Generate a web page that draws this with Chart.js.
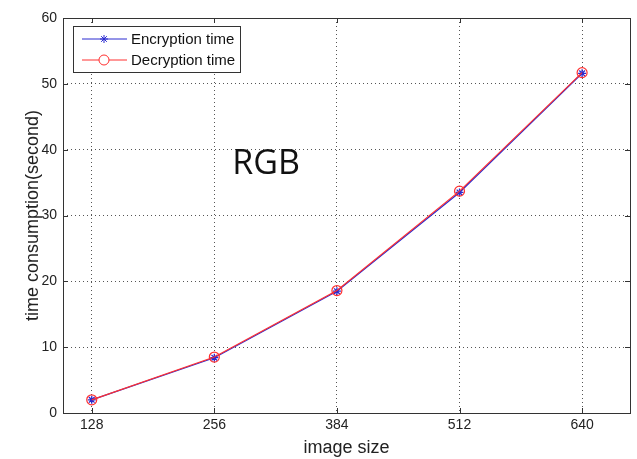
<!DOCTYPE html>
<html>
<head>
<meta charset="utf-8">
<script src="https://cdn.jsdelivr.net/npm/chart.js@4/dist/chart.umd.min.js"></script>
<style>
  body { margin: 0; background: #fff; }
  #c { display: block; }
</style>
</head>
<body>
<canvas id="c" width="637" height="459"></canvas>
<script>
// data
const imageSizes = [128, 256, 384, 512, 640];
const encryptionTime = [2.0, 8.4, 18.5, 33.5, 51.6];
const decryptionTime = [2.0, 8.5, 18.6, 33.7, 51.7];
const yTicks = [0, 10, 20, 30, 40, 50, 60];

const FONT = "'Liberation Sans', Arial, sans-serif";

// legend box + frame + "RGB" text drawn over the plot
const matlabLook = {
  id: "matlabLook",
  beforeDraw(chart) {
    const c = chart.ctx;
    c.save();
    c.fillStyle = "#fff";
    c.fillRect(0, 0, chart.width, chart.height);
    c.restore();
  },
  afterDatasetsDraw(chart) {
    const c = chart.ctx;
    const a = chart.chartArea;
    const xs = chart.scales.x, ys = chart.scales.y;
    c.save();
    // frame
    c.strokeStyle = "#333";
    c.lineWidth = 1;
    c.strokeRect(Math.round(a.left) + 0.5, Math.round(a.top) + 0.5, Math.round(a.right - a.left), Math.round(a.bottom - a.top));
    // inner ticks
    c.beginPath();
    imageSizes.forEach(v => {
      const px = Math.round(xs.getPixelForValue(v)) + 0.5;
      c.moveTo(px, a.bottom); c.lineTo(px, a.bottom - 5);
      c.moveTo(px, a.top); c.lineTo(px, a.top + 5);
    });
    yTicks.forEach(v => {
      const py = Math.round(ys.getPixelForValue(v)) + 0.5;
      c.moveTo(a.left, py); c.lineTo(a.left + 5, py);
      c.moveTo(a.right, py); c.lineTo(a.right - 5, py);
    });
    c.stroke();

    // RGB label
    c.fillStyle = "#111";
    c.font = "34px 'Open Sans', " + FONT;
    c.textAlign = "center";
    c.textBaseline = "middle";
    c.fillText("RGB", xs.getPixelForValue(310), ys.getPixelForValue(37.8));

    // legend
    const lx = 73, ly = 26, lw = 167, lh = 46;
    c.fillStyle = "#fff";
    c.fillRect(lx, ly, lw, lh);
    c.strokeStyle = "#333";
    c.strokeRect(lx + 0.5, ly + 0.5, lw, lh);
    c.font = "15px " + FONT;
    c.textAlign = "left";
    chart.data.datasets.forEach((ds, i) => {
      const yy = ly + 13 + i * 21;
      c.strokeStyle = ds.borderColor;
      c.lineWidth = 1;
      c.beginPath();
      c.moveTo(lx + 9, yy); c.lineTo(lx + 54, yy);
      c.stroke();
      c.fillStyle = "#fff";
      Chart.helpers.drawPoint(c, {
        pointStyle: ds.pointStyle, radius: ds.pointRadius, borderWidth: 1.2, rotation: 0
      }, lx + 31, yy);
      c.fillStyle = "#111";
      c.fillText(ds.label, lx + 58, yy + 1);
    });
    c.restore();
  }
};

new Chart(document.getElementById("c"), {
  type: "line",
  data: {
    datasets: [
      {
        label: "Encryption time",
        data: imageSizes.map((x, i) => ({ x: x, y: encryptionTime[i] })),
        borderColor: "#2a2ad0",
        backgroundColor: "#2a2ad0",
        borderWidth: 1.2,
        pointStyle: "star",
        pointRadius: 4,
        pointBorderWidth: 1.3,
        tension: 0,
        order: 1
      },
      {
        label: "Decryption time",
        data: imageSizes.map((x, i) => ({ x: x, y: decryptionTime[i] })),
        borderColor: "#ff3030",
        backgroundColor: "rgba(0,0,0,0)",
        borderWidth: 1.2,
        pointStyle: "circle",
        pointRadius: 5,
        pointBorderWidth: 1.2,
        tension: 0,
        order: 0
      }
    ]
  },
  options: {
    responsive: false,
    animation: false,
    layout: { padding: { top: 18, right: 7, left: 0, bottom: 0 } },
    plugins: { legend: { display: false }, tooltip: { enabled: false } },
    scales: {
      x: {
        type: "linear",
        min: 98,
        max: 690,
        afterBuildTicks: s => { s.ticks = imageSizes.map(v => ({ value: v })); },
        afterFit: s => { s.height = 46; },
        grid: { color: "#555", drawTicks: false, lineWidth: 1 },
        border: { display: false, dash: [1, 3] },
        ticks: { color: "#222", font: { family: FONT, size: 14 }, padding: 4, maxRotation: 0 },
        title: { display: true, text: "image size", color: "#222", font: { family: FONT, size: 18 }, padding: { top: 0, bottom: 0 } }
      },
      y: {
        min: 0,
        max: 60,
        afterBuildTicks: s => { s.ticks = yTicks.map(v => ({ value: v })); },
        afterFit: s => { s.width = 63; },
        grid: { color: "#555", drawTicks: false, lineWidth: 1 },
        border: { display: false, dash: [1, 3] },
        ticks: { color: "#222", font: { family: FONT, size: 14 }, padding: 6 },
        title: { display: true, text: "time consumption(second)", color: "#222", font: { family: FONT, size: 18 }, padding: { top: 22, bottom: 0 } }
      }
    }
  },
  plugins: [matlabLook]
});
</script>
</body>
</html>
